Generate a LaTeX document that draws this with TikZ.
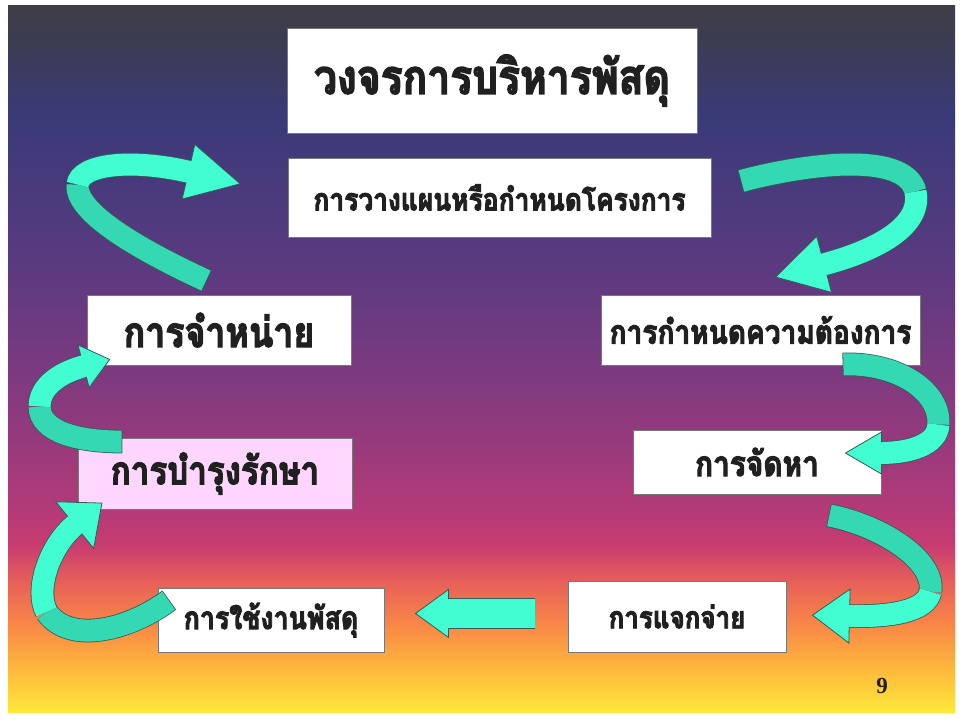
\documentclass[tikz,border=0pt]{standalone}
\usepackage{fontspec}
\newfontfamily\thaifont[Script=Thai, FakeStretch=0.85, FakeBold=3]{Loma}
\newfontfamily\numfont{Liberation Serif}
\usetikzlibrary{calc,decorations.markings}

\definecolor{turq}{RGB}{66,252,210}
\definecolor{turqdark}{RGB}{52,216,178}
\definecolor{ribedge}{RGB}{52,92,84}
\definecolor{boxline}{RGB}{120,120,120}
\definecolor{pinkfill}{RGB}{255,214,255}
\definecolor{inktext}{RGB}{32,32,32}
%% slide background, yellow at the bottom up to slate at the top
\definecolor{bgA}{RGB}{62,62,70}
\definecolor{bgB}{RGB}{60,60,82}
\definecolor{bgC}{RGB}{58,58,120}
\definecolor{bgD}{RGB}{75,58,125}
\definecolor{bgE}{RGB}{95,58,128}
\definecolor{bgF}{RGB}{120,58,128}
\definecolor{bgG}{RGB}{150,58,124}
\definecolor{bgH}{RGB}{180,58,120}
\definecolor{bgI}{RGB}{200,60,112}
\definecolor{bgJ}{RGB}{230,95,90}
\definecolor{bgK}{RGB}{248,130,72}
\definecolor{bgL}{RGB}{253,185,60}
\definecolor{bgM}{RGB}{255,232,58}
\pgfdeclareverticalshading{slidebg}{100bp}{color(0bp)=(bgM); color(25bp)=(bgM);
  color(28bp)=(bgL); color(31.5bp)=(bgK); color(34.3bp)=(bgJ); color(36.8bp)=(bgI);
  color(39.3bp)=(bgH); color(44.2bp)=(bgG); color(49.9bp)=(bgF); color(55.5bp)=(bgE);
  color(61.2bp)=(bgD); color(67.2bp)=(bgC); color(72.5bp)=(bgB); color(75bp)=(bgA);
  color(100bp)=(bgA)}

%% arrow head drawn at the end of a ribbon: length, half width, half body width
\newcommand\ribbonhead[3]{%
  \fill[turq] (-1pt,#2) -- (#1,0pt) -- (-1pt,-#2) -- cycle;
  \draw[ribedge, line width=0.8pt, line join=miter]
    (-1pt,#3) -- (-1pt,#2) -- (#1,0pt) -- (-1pt,-#2) -- (-1pt,-#3);}

\begin{document}
\begin{tikzpicture}[x=1pt, y=-1pt,
  box/.style={draw=boxline, line width=0.8pt, fill=white, text=inktext,
              inner sep=2pt, align=center},
  thai/.style={font=\thaifont\bfseries\fontsize{#1}{#1}\selectfont},
  ribbon/.style={draw=turq, line width=22pt,
                 preaction={draw=ribedge, line width=23.6pt}},
  ribbondark/.style={draw=turqdark, line width=22pt,
                 preaction={draw=ribedge, line width=23.6pt, shorten <=-0.8pt}},
  blockarrow/.style={draw=turq, line width=29pt,
                 preaction={draw=ribedge, line width=30.6pt, shorten <=-0.8pt}},
  headed/.style n args={3}{postaction={decorate, decoration={markings,
                 mark=at position 0.999 with {\ribbonhead{#1}{#2}{#3}}}}}]

\useasboundingbox (0,0) rectangle (963,718);
\fill[white] (0,0) rectangle (963,718);
\shade[shading=slidebg] (8,5) rectangle (955,712);

%% Boxes of the cycle
\node[box, thai=48, minimum width=410pt, minimum height=105pt] (title)    at (492,80.5)  {วงจรการบริหารพัสดุ};
\node[box, thai=31, minimum width=423pt, minimum height=79pt]  (plan)     at (499.5,197.5) {การวางแผนหรือกำหนดโครงการ};
\node[box, thai=42, minimum width=264pt, minimum height=70pt]  (dispose)  at (219,330)   {การจำหน่าย};
\node[box, thai=33, minimum width=319pt, minimum height=70pt]  (needs)    at (760.5,330) {การกำหนดความต้องการ};
\node[box, thai=39, fill=pinkfill, minimum width=274pt, minimum height=71pt] (maint) at (215,473.5) {การบำรุงรักษา};
\node[box, thai=35, minimum width=248pt, minimum height=64pt]  (procure)  at (757,462)   {การจัดหา};
\node[box, thai=31.5, minimum width=226pt, minimum height=64pt] (use)     at (271,620)   {การใช้งานพัสดุ};
\node[box, thai=30.5, minimum width=218pt, minimum height=71pt] (dist)    at (677,616.5) {การแจกจ่าย};
\node[font=\numfont\bfseries\fontsize{23}{24}\selectfont, text=inktext] (pageno) at (882,686) {9};

%% Twist points where a ribbon turns from its dark to its light side
\coordinate (twA) at ($(dispose.north west)+(-9,-110)$);
\coordinate (twB) at ($(needs.north east)+(-5,-103)$);
\coordinate (twC) at ($(procure.north east)+(57,-5)$);
\coordinate (twD) at ($(dist.north east)+(144,11)$);
\coordinate (twE) at ($(use.west)+(-111,-8)$);
\coordinate (twF) at ($(dispose.south west)+(-47,41)$);

%% Curved ribbon arrows
\draw[ribbondark] ($(dispose.north)+(-13,-14)$) .. controls +(-56,-26) and +(-3,30) .. (twA);
\draw[ribbon, headed={52pt}{28pt}{11pt}] (twA) .. controls +(2,-20) and +(-60,-14) .. ($(plan.west)+(-98,-25.5)$);

\draw[ribbondark] ($(plan.east)+(30,-16.5)$) .. controls +(59,-16) and +(-10,-42) .. (twB);
\draw[ribbon, headed={49pt}{29pt}{11pt}] (twB) .. controls +(7,33) and +(57,-15) .. ($(needs.north)+(62.5,-30)$);

\draw[ribbondark] ($(needs.south east)+(-77,-1)$) .. controls +(52,-2) and +(2,-35) .. (twC);
\draw[ribbon, headed={35pt}{21pt}{11pt}] (twC) .. controls +(-1,20) and +(30,0) .. ($(procure.east)+(-1,-9)$);

\draw[ribbondark] ($(procure.south east)+(-52,21)$) .. controls +(51,10) and +(5,-32) .. (twD);
\draw[ribbon, headed={36pt}{27pt}{11pt}] (twD) .. controls +(-4,20) and +(42,1) .. ($(dist.east)+(62,-0.5)$);

\draw[ribbondark] ($(use.north west)+(11,13)$) .. controls +(-39,29) and +(23,33) .. (twE);
\draw[ribbon, headed={34pt}{30pt}{11pt}] (twE) .. controls +(-12,-22) and +(-26,21) .. ($(maint.south west)+(-2,15)$);

\draw[ribbondark] ($(maint.north west)+(44,4)$) .. controls +(-42,0) and +(0,26) .. (twF);
\draw[ribbon, headed={26pt}{22pt}{11pt}] (twF) .. controls +(0,-21) and +(-23,6) .. ($(dispose.west)+(-2,36)$);

%% Straight block arrow
\draw[blockarrow, headed={32pt}{24pt}{14.5pt}] ($(dist.west)+(-33,-3)$) -- ($(use.east)+(63,-6.5)$);
\end{tikzpicture}
\end{document}
